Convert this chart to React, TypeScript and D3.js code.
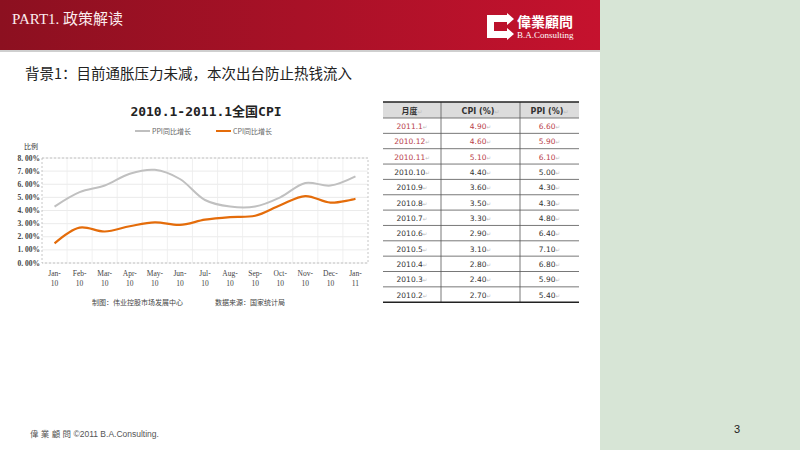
import React from "react";
import * as d3 from "d3";

const months = ["Jan-10","Feb-10","Mar-10","Apr-10","May-10","Jun-10","Jul-10","Aug-10","Sep-10","Oct-10","Nov-10","Dec-10","Jan-11"];
const ppi = [4.3, 5.4, 5.9, 6.8, 7.1, 6.4, 4.8, 4.3, 4.3, 5.0, 6.1, 5.9, 6.6];
const cpi = [1.5, 2.7, 2.4, 2.8, 3.1, 2.9, 3.3, 3.5, 3.6, 4.4, 5.1, 4.6, 4.9];
const yTicks = [0, 1, 2, 3, 4, 5, 6, 7, 8];

const tableMonths = ["2011.1","2010.12","2010.11","2010.10","2010.9","2010.8","2010.7","2010.6","2010.5","2010.4","2010.3","2010.2"];
const tableCpi = [4.9, 4.6, 5.1, 4.4, 3.6, 3.5, 3.3, 2.9, 3.1, 2.8, 2.4, 2.7];
const tablePpi = [6.6, 5.9, 6.1, 5.0, 4.3, 4.3, 4.8, 6.4, 7.1, 6.8, 5.9, 5.4];
const tableHeaders = ["月度", "CPI (%)", "PPI (%)"];

export default function App() {
  const plot = { left: 42, right: 368, top: 158, bottom: 263 };
  const x = d3.scaleBand<string>().domain(months).range([plot.left, plot.right]);
  const y = d3.scaleLinear().domain([0, 8]).range([plot.bottom, plot.top]);
  const cx = (m: string) => (x(m) as number) + x.bandwidth() / 2;
  const line = d3
    .line<number>()
    .x((_, i) => cx(months[i]))
    .y((d) => y(d))
    .curve(d3.curveCatmullRom.alpha(0.5));

  const tbl = { left: 383, right: 579, top: 102, headerH: 16, rowH: 15.35 };
  const cols = [383, 441, 520, 579];
  const rowY = d3
    .scaleLinear()
    .domain([0, tableMonths.length])
    .range([tbl.top + tbl.headerH, tbl.top + tbl.headerH + tbl.rowH * tableMonths.length]);
  const tableBottom = rowY(tableMonths.length);

  const serif = "'Liberation Serif', 'DejaVu Serif', serif";
  const cjk = "'Noto Sans CJK SC', sans-serif";
  const gothic = "'DejaVu Sans', 'Noto Sans', sans-serif";

  return (
    <svg width={800} height={450} style={{ position: "absolute", left: 0, top: 0, background: "#ffffff" }}>
      <defs>
        <linearGradient id="hdr" x1="0" x2="1" y1="0" y2="0">
          <stop offset="0" stopColor="#8c1020" />
          <stop offset="1" stopColor="#c5122e" />
        </linearGradient>
      </defs>
      {/* right panel */}
      <rect x={600} y={0} width={200} height={450} fill="#d7e5d6" />
      <text x={737} y={433} fontSize={11} fontFamily="'Liberation Sans', sans-serif" fill="#222" textAnchor="middle">3</text>

      {/* header */}
      <rect x={0} y={0} width={600} height={50} fill="url(#hdr)" />
      <rect x={0} y={50} width={600} height={2} fill="#cfcfcf" />
      <text x={12} y={24} fontSize={15} fontFamily={`'Liberation Serif', ${cjk}`} fill="#fbecee">PART1. 政策解读</text>
      {/* logo */}
      <path d="M487,15 L507,15 L507,13 L514,19 L507,25 L507,22 L494,22 L494,31 L507,31 L507,28 L514,34 L507,40 L507,38 L487,38 Z" fill="#ffffff" />
      <text x={517} y={27} fontSize={14} fontWeight="bold" fontFamily={"'Noto Sans CJK TC', sans-serif"} fill="#ffffff">偉業顧問</text>
      <text x={517} y={38} fontSize={9} fontFamily={serif} fill="#ffffff">B.A.Consulting</text>

      {/* subtitle */}
      <text x={25} y={79} fontSize={14.5} fontFamily={cjk} fill="#222">背景1：目前通胀压力未减，本次出台防止热钱流入</text>

      {/* chart title */}
      <text x={206} y={116} fontSize={13} fontWeight="bold" fontFamily={`'DejaVu Sans Mono', ${cjk}`} fill="#222" textAnchor="middle">2010.1-2011.1全国CPI</text>

      {/* legend */}
      <line x1={135} x2={150} y1={131} y2={131} stroke="#bfbfbf" strokeWidth={2} />
      <text x={152} y={134} fontSize={7} fontFamily={cjk} fill="#666">PPI同比增长</text>
      <line x1={216} x2={231} y1={131} y2={131} stroke="#e46c0a" strokeWidth={2} />
      <text x={233} y={134} fontSize={7} fontFamily={cjk} fill="#666">CPI同比增长</text>

      {/* grid */}
      {yTicks.map((t) => (
        <line key={"h" + t} x1={plot.left} x2={plot.right} y1={y(t)} y2={y(t)} stroke="#e6e6e6" strokeWidth={0.8} />
      ))}
      {months.slice(1).map((m) => (
        <line key={"v" + m} x1={x(m) as number} x2={x(m) as number} y1={plot.top} y2={plot.bottom} stroke="#ececec" strokeWidth={0.8} />
      ))}
      <rect x={plot.left} y={plot.top} width={plot.right - plot.left} height={plot.bottom - plot.top} fill="none" stroke="#b8b8b8" strokeWidth={0.8} strokeDasharray="2,2" />

      {/* y axis */}
      <text x={24} y={149} fontSize={7} fontFamily={cjk} fill="#333">比例</text>
      {yTicks.map((t) => (
        <text key={"yt" + t} x={40} y={y(t) + 2.5} fontSize={7.5} fontWeight="bold" fontFamily={serif} fill="#444" textAnchor="end">
          {t.toFixed(2).replace(".", ". ")}%
        </text>
      ))}

      {/* x axis */}
      {months.map((m) => {
        const [mon, yr] = m.split("-");
        return (
          <g key={"xt" + m}>
            <text x={cx(m)} y={276} fontSize={7.5} fontFamily={serif} fill="#444" textAnchor="middle">{mon}-</text>
            <text x={cx(m)} y={286} fontSize={7.5} fontFamily={serif} fill="#444" textAnchor="middle">{yr}</text>
          </g>
        );
      })}

      {/* lines */}
      <path d={line(ppi) || ""} fill="none" stroke="#c0c0c0" strokeWidth={2} />
      <path d={line(cpi) || ""} fill="none" stroke="#e46c0a" strokeWidth={2.2} />

      {/* credits */}
      <text x={92} y={305} fontSize={7} fontFamily={cjk} fill="#444">制图：伟业控股市场发展中心</text>
      <text x={215} y={305} fontSize={7} fontFamily={cjk} fill="#444">数据来源：国家统计局</text>

      {/* table */}
      <rect x={tbl.left} y={tbl.top} width={tbl.right - tbl.left} height={tbl.headerH} fill="#dcdcdc" />
      {tableHeaders.map((h, i) => (
        <text key={"th" + i} x={(cols[i] + cols[i + 1]) / 2} y={tbl.top + 11.5} fontSize={8} fontWeight="bold" fontFamily={`${gothic}, ${cjk}`} fill="#333" textAnchor="middle">
          {h}<tspan fill="#bbb" fontWeight="normal" fontSize={6}>↵</tspan>
        </text>
      ))}
      {tableMonths.map((m, i) => {
        const red = i < 3;
        const fill = red ? "#b8404a" : "#333";
        const yy = rowY(i) + 10.8;
        return (
          <g key={"tr" + m}>
            <text x={(cols[0] + cols[1]) / 2} y={yy} fontSize={7.5} fontFamily={gothic} fill={fill} textAnchor="middle">
              {m}<tspan fill="#bbb" fontSize={5.5}>↵</tspan>
            </text>
            <text x={(cols[1] + cols[2]) / 2} y={yy} fontSize={7.5} fontFamily={gothic} fill={fill} textAnchor="middle">
              {tableCpi[i].toFixed(2)}<tspan fill="#bbb" fontSize={5.5}>↵</tspan>
            </text>
            <text x={(cols[2] + cols[3]) / 2} y={yy} fontSize={7.5} fontFamily={gothic} fill={fill} textAnchor="middle">
              {tablePpi[i].toFixed(2)}<tspan fill="#bbb" fontSize={5.5}>↵</tspan>
            </text>
          </g>
        );
      })}
      {tableMonths.map((m, i) => (
        <line key={"rl" + m} x1={tbl.left} x2={tbl.right} y1={rowY(i)} y2={rowY(i)} stroke="#555" strokeWidth={0.8} />
      ))}
      {cols.slice(1, 3).map((c) => (
        <line key={"cl" + c} x1={c} x2={c} y1={tbl.top} y2={tableBottom} stroke="#555" strokeWidth={0.8} />
      ))}
      <line x1={tbl.left} x2={tbl.right} y1={tbl.top} y2={tbl.top} stroke="#222" strokeWidth={1.5} />
      <line x1={tbl.left} x2={tbl.right} y1={tableBottom} y2={tableBottom} stroke="#222" strokeWidth={1.5} />

      {/* footer */}
      <text x={30} y={437} fontSize={8.5} fontFamily={`'Liberation Sans', ${cjk}`} fill="#555">偉 業 顧 問 ©2011 B.A.Consulting.</text>
    </svg>
  );
}
